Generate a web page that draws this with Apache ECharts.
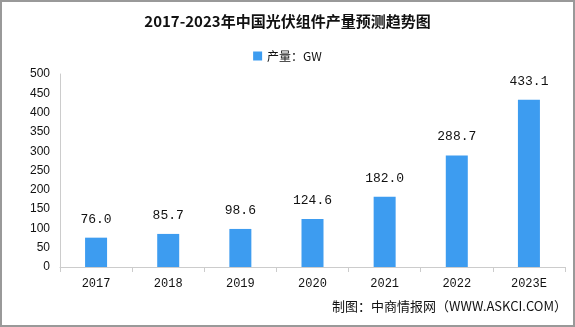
<!DOCTYPE html>
<html><head><meta charset="utf-8">
<script src="https://cdn.jsdelivr.net/npm/echarts@6/dist/echarts.min.js"></script>
<style>html,body{margin:0;padding:0;background:#fff}#c{width:575px;height:327px;box-sizing:border-box;border:2px solid #999}</style>
</head><body><div id="c"></div>
<script>
const categories = ['2017','2018','2019','2020','2021','2022','2023E'];
const values = [76.0, 85.7, 98.6, 124.6, 182.0, 288.7, 433.1];
const seriesName = '产量：GW';
const chart = echarts.init(document.getElementById('c'));
chart.setOption({
  animation:false,
  title:{text:'2017-2023年中国光伏组件产量预测趋势图',left:'center',top:7,
    textStyle:{fontFamily:'Noto Sans CJK SC',fontWeight:'bold',fontSize:15,color:'#111'}},
  legend:{data:[seriesName],top:43,left:'center',itemWidth:9,itemHeight:9,icon:'rect',
    textStyle:{fontFamily:'Noto Sans CJK SC',fontSize:12,color:'#111'}},
  grid:{left:58,right:8,top:72,bottom:58},
  xAxis:{type:'category',data:categories,
    axisLine:{lineStyle:{color:'#ccc'}},axisTick:{show:true,lineStyle:{color:'#ccc'}},
    axisLabel:{color:'#111',fontSize:12,fontFamily:'Liberation Mono',margin:11}},
  yAxis:{type:'value',min:0,max:500,interval:50,
    axisLine:{show:true,lineStyle:{color:'#ccc'}},axisTick:{show:false},splitLine:{show:false},
    axisLabel:{color:'#111',fontSize:12,fontFamily:'Liberation Sans',margin:10}},
  graphic:[{type:'text',right:6,bottom:12,style:{text:'制图：中商情报网（WWW.ASKCI.COM）',fill:'#111',
    font:'13px "Noto Sans CJK SC"'}}],
  series:[{name:seriesName,type:'bar',data:values,barWidth:22,itemStyle:{color:'#3d9cf0'},
    label:{show:true,position:'top',distance:12,color:'#111',fontSize:13,fontFamily:'Liberation Mono',
      formatter:p=>p.value.toFixed(1)}}]
});
</script></body></html>
